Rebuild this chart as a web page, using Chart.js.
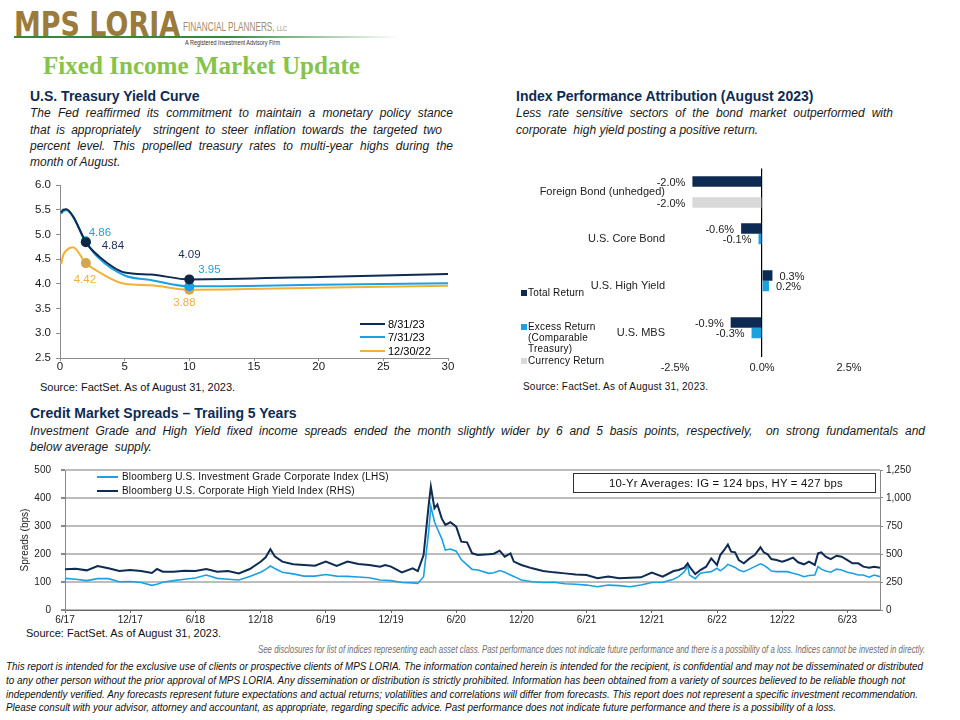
<!DOCTYPE html>
<html><head><meta charset="utf-8">
<script src="https://cdn.jsdelivr.net/npm/chart.js@4.4.0/dist/chart.umd.min.js"></script>
<style>
body{margin:0;background:#fff;}
#page{position:relative;width:960px;height:720px;overflow:hidden;font-family:"Liberation Sans",Arial,sans-serif;color:#000;background:#fff;}
.abs{position:absolute;white-space:nowrap;}
.h{font-weight:bold;font-size:14px;line-height:16px;color:#0F2B52;}
.p{font-style:italic;font-size:12px;line-height:16px;color:#1a1a1a;}
.j{text-align:justify;text-align-last:justify;}
.src{font-size:11px;line-height:14px;color:#111;}
.disc{font-family:"Liberation Sans Narrow","Liberation Sans",Arial,sans-serif;font-style:italic;font-size:10.5px;line-height:13px;}
canvas{position:absolute;}
.lg{font-size:10px;line-height:12px;color:#111;letter-spacing:0.2px;}
.sq{position:absolute;width:6px;height:6px;}
.ln{position:absolute;height:2px;}
</style></head>
<body><div id="page">

<!-- Logo -->
<div class="abs" data-w="166" style="left:14px;top:6px;font-family:'DejaVu Sans',sans-serif;font-weight:bold;font-size:34px;line-height:36px;color:#9A7B3C;transform-origin:left center;">MPS LORIA</div>
<div class="abs" data-w="104" style="left:183px;top:20px;font-family:'Liberation Sans Narrow',Arial,sans-serif;font-size:12px;line-height:14px;color:#9F8D6C;">FINANCIAL PLANNERS, <span style="font-size:8px">LLC</span></div>
<div class="abs" data-w="95" style="left:185px;top:39px;font-size:7px;line-height:8px;color:#333;">A Registered Investment Advisory Firm</div>
<div class="abs" style="left:14px;top:36px;width:385px;height:2px;background:linear-gradient(to right,#2F8A3C 0%,#2F8A3C 55%,rgba(47,138,60,0) 100%);"></div>
<div class="abs" data-w="317" style="left:43px;top:51px;font-family:'Liberation Serif',serif;font-weight:bold;font-size:26px;line-height:30px;color:#86C34A;">Fixed Income Market Update</div>

<!-- Yield curve texts -->
<div class="abs h" style="left:30px;top:88px;">U.S. Treasury Yield Curve</div>
<div class="abs p j" style="left:30px;top:105px;width:423px;">The Fed reaffirmed its commitment to maintain a monetary policy stance</div>
<div class="abs p j" style="left:30px;top:122px;width:412px;">that is appropriately&nbsp; stringent to steer inflation towards the targeted two</div>
<div class="abs p j" style="left:30px;top:138px;width:423px;">percent level. This propelled treasury rates to multi-year highs during the</div>
<div class="abs p" style="left:30px;top:154px;">month of August.</div>
<div class="abs src" style="left:40px;top:380px;">Source: FactSet. As of August 31, 2023.</div>

<!-- Bar chart texts -->
<div class="abs h" style="left:516px;top:88px;">Index Performance Attribution (August 2023)</div>
<div class="abs p j" style="left:516px;top:105px;width:377px;">Less rate sensitive sectors of the bond market outperformed with</div>
<div class="abs p" style="left:516px;top:122px;">corporate&nbsp; high yield posting a positive return.</div>
<div class="abs src" style="left:523px;top:380px;font-size:10px;letter-spacing:0.2px;">Source: FactSet. As of August 31, 2023.</div>

<!-- Spreads texts -->
<div class="abs h" style="left:30px;top:405px;">Credit Market Spreads – Trailing 5 Years</div>
<div class="abs p j" style="left:30px;top:423px;width:895px;">Investment Grade and High Yield fixed income spreads ended the month slightly wider by 6 and 5 basis points, respectively,&nbsp; on strong fundamentals and</div>
<div class="abs p" style="left:30px;top:439px;">below average&nbsp; supply.</div>
<div class="abs src" style="left:26px;top:626px;">Source: FactSet. As of August 31, 2023.</div>

<!-- Disclosures -->
<div class="abs disc" data-w="667" style="left:258px;top:643px;color:#707070;font-size:11.5px;">See disclosures for list of indices representing each asset class. Past performance does not indicate future performance and there is a possibility of a loss. Indices cannot be invested in directly.</div>
<div class="abs disc" data-w="917" style="left:6px;top:660px;color:#111;">This report is intended for the exclusive use of clients or prospective clients of MPS LORIA. The information contained herein is intended for the recipient, is confidential and may not be disseminated or distributed</div>
<div class="abs disc" data-w="899" style="left:6px;top:674px;color:#111;">to any other person without the prior approval of MPS LORIA. Any dissemination or distribution is strictly prohibited. Information has been obtained from a variety of sources believed to be reliable though not</div>
<div class="abs disc" data-w="912" style="left:6px;top:688px;color:#111;">independently verified. Any forecasts represent future expectations and actual returns; volatilities and correlations will differ from forecasts. This report does not represent a specific investment recommendation.</div>
<div class="abs disc" data-w="830" style="left:6px;top:701px;color:#111;">Please consult with your advisor, attorney and accountant, as appropriate, regarding specific advice. Past performance does not indicate future performance and there is a possibility of a loss.</div>

<canvas id="yieldChart" width="440" height="205" style="left:20px;top:175px;"></canvas>
<canvas id="barChart" width="440" height="225" style="left:510px;top:160px;"></canvas>
<canvas id="spreadChart" width="930" height="172" style="left:10px;top:462px;"></canvas>

<!-- Yield legend -->
<div class="ln" style="left:360px;top:323px;width:25px;background:#0E2B53;"></div>
<div class="abs" style="left:388px;top:317px;font-size:11px;line-height:14px;">8/31/23</div>
<div class="ln" style="left:360px;top:336px;width:25px;background:#1BA1E2;"></div>
<div class="abs" style="left:388px;top:330px;font-size:11px;line-height:14px;">7/31/23</div>
<div class="ln" style="left:360px;top:350px;width:25px;background:#F2B134;"></div>
<div class="abs" style="left:388px;top:344px;font-size:11px;line-height:14px;">12/30/22</div>

<!-- Bar legend -->
<div class="sq" style="left:521px;top:290px;background:#0C2A52;"></div>
<div class="abs lg" style="left:528px;top:287px;">Total Return</div>
<div class="sq" style="left:521px;top:324px;background:#1AA1E0;"></div>
<div class="abs lg" style="left:528px;top:321px;">Excess Return</div>
<div class="abs lg" style="left:528px;top:332px;">(Comparable</div>
<div class="abs lg" style="left:528px;top:343px;">Treasury)</div>
<div class="sq" style="left:521px;top:358px;background:#D9D9D9;"></div>
<div class="abs lg" style="left:528px;top:355px;">Currency Return</div>

<!-- Spread legend -->
<div class="ln" style="left:97px;top:476px;width:21px;background:#1BA1E2;"></div>
<div class="abs lg" style="left:122px;top:471px;">Bloomberg U.S. Investment Grade Corporate Index (LHS)</div>
<div class="ln" style="left:97px;top:490px;width:21px;background:#0E2B53;"></div>
<div class="abs lg" style="left:122px;top:485px;">Bloomberg U.S. Corporate High Yield Index (RHS)</div>
<div class="abs" style="left:573px;top:473px;width:301px;height:18px;border:1.5px solid #333;background:#fff;"></div>
<div class="abs lg" data-w="234" style="left:609px;top:478px;">10-Yr Averages: IG = 124 bps, HY = 427 bps</div>

</div>
<script>
// ---------- Data: yield curve ----------
const maturities = [0.083, 0.25, 0.5, 1, 2, 3, 5, 7, 10, 20, 30];
const yields_2023_08_31 = [5.44, 5.50, 5.51, 5.37, 4.84, 4.56, 4.23, 4.19, 4.09, 4.14, 4.20];
const yields_2023_07_31 = [5.42, 5.47, 5.49, 5.36, 4.86, 4.52, 4.17, 4.08, 3.95, 3.98, 4.01];
const yields_2022_12_30 = [4.40, 4.58, 4.68, 4.74, 4.42, 4.24, 4.00, 3.97, 3.88, 3.92, 3.96];
const markedMaturities = [2, 10];
const yieldXTicks = [0, 5, 10, 15, 20, 25, 30];

// ---------- Data: performance attribution ----------
const sectors = ['Foreign Bond (unhedged)', 'U.S. Core Bond', 'U.S. High Yield', 'U.S. MBS'];
const totalReturn = [-2.0, -0.6, 0.3, -0.9];
const excessReturn = [null, -0.1, 0.2, -0.3];
const currencyReturn = [-2.0, null, null, null];

// ---------- Data: credit spreads ----------
const spreadDates = ['2017-06-01','2017-07-01','2017-08-01','2017-09-01','2017-10-01','2017-11-01','2017-12-01','2018-01-01','2018-02-01','2018-02-15','2018-03-01','2018-04-01','2018-05-01','2018-06-01','2018-07-01','2018-08-01','2018-09-01','2018-10-01','2018-11-01','2018-12-01','2018-12-15','2018-12-28','2019-01-10','2019-02-01','2019-03-01','2019-04-01','2019-05-01','2019-06-01','2019-07-01','2019-08-01','2019-09-01','2019-10-01','2019-11-01','2019-11-15','2019-12-01','2020-01-01','2020-02-01','2020-02-15','2020-03-01','2020-03-15','2020-03-21','2020-03-31','2020-04-09','2020-04-21','2020-05-01','2020-05-15','2020-06-01','2020-06-15','2020-07-01','2020-07-15','2020-08-01','2020-09-01','2020-09-15','2020-10-01','2020-10-15','2020-11-01','2020-11-10','2020-12-01','2021-01-01','2021-02-01','2021-03-01','2021-04-01','2021-05-01','2021-06-01','2021-07-01','2021-08-01','2021-09-01','2021-10-01','2021-11-01','2021-12-01','2022-01-01','2022-02-01','2022-02-15','2022-03-01','2022-03-10','2022-03-15','2022-04-01','2022-04-15','2022-05-01','2022-05-15','2022-06-01','2022-06-10','2022-06-21','2022-07-01','2022-07-10','2022-07-21','2022-08-01','2022-08-15','2022-09-01','2022-09-15','2022-10-01','2022-10-10','2022-10-21','2022-11-01','2022-11-15','2022-12-01','2022-12-15','2023-01-01','2023-01-15','2023-02-01','2023-02-15','2023-03-01','2023-03-10','2023-03-19','2023-04-01','2023-04-15','2023-05-01','2023-05-15','2023-06-01','2023-06-15','2023-07-01','2023-07-15','2023-08-01','2023-08-15','2023-08-31'];
const igSpread = [113,110,105,112,112,101,102,98,88,92,99,105,110,114,125,113,110,107,120,135,145,157,148,135,129,121,121,127,121,120,118,115,107,106,105,98,97,95,119,280,370,315,290,255,214,218,210,180,161,145,143,131,133,141,135,125,120,107,101,98,99,94,92,89,83,89,87,83,89,98,99,110,119,137,157,125,112,131,135,137,149,140,150,163,158,152,143,137,146,155,165,160,150,139,137,137,137,131,127,119,123,125,155,146,139,135,146,143,135,131,125,125,117,125,119];
const hySpread = [363,369,354,393,372,348,357,348,330,366,342,342,351,348,366,342,348,327,366,431,470,542,480,432,408,402,396,432,393,432,411,402,387,402,387,336,372,348,491,937,1101,908,943,818,759,783,744,610,604,506,491,497,503,530,476,506,432,402,372,348,336,327,318,312,283,298,283,289,292,335,298,348,357,378,417,387,321,357,387,461,402,491,536,585,521,515,446,417,461,491,560,515,497,455,446,432,446,467,426,408,432,402,506,515,476,455,485,476,446,417,417,387,378,387,378];
const spreadLeftTicks = [0, 100, 200, 300, 400, 500];
const spreadRightTicks = [0, 250, 500, 750, 1000, 1250];

// ---------- Style ----------
const NAVY = '#0E2B53', LBLUE = '#1BA1E2', GOLD = '#F2B134', GOLDPT = '#D2A64C', GRAY = '#D9D9D9';
const FONT = '"Liberation Sans", Arial, sans-serif';
const AXIS = '#8C8C8C';
// keep label overflow from enlarging the plot margins (layout padding controls them)
const noVPad = s => { s.paddingTop = 0; s.paddingBottom = 0; };
const noHPad = s => { s.paddingLeft = 0; s.paddingRight = 0; };

// ---------- Yield curve chart ----------
const yieldLabelPos = {
  0: {2: [27, 3], 10: [0, -25]},
  1: {2: [14, -9], 10: [20, -17]},
  2: {2: [-1, 17], 10: [-5, 13]}
};
const yieldLabelPlugin = {
  id: 'yieldLabels',
  afterDatasetsDraw(chart) {
    const ctx = chart.ctx;
    chart.data.datasets.forEach((ds, i) => {
      const meta = chart.getDatasetMeta(i);
      markedMaturities.forEach(m => {
        const idx = ds.data.findIndex(p => p.x === m);
        const el = meta.data[idx];
        const off = yieldLabelPos[i][m];
        ctx.save();
        ctx.font = '11.5px ' + FONT;
        ctx.fillStyle = ds.labelColor;
        ctx.textAlign = 'center';
        ctx.textBaseline = 'middle';
        ctx.fillText(ds.data[idx].y.toFixed(2), el.x + off[0], el.y + off[1]);
        ctx.restore();
      });
    });
  }
};
function curve(vals, color, ptColor, labelColor) {
  return {
    data: maturities.map((m, i) => ({x: m, y: vals[i]})),
    borderColor: color, borderWidth: 2, cubicInterpolationMode: 'monotone',
    pointRadius: c => markedMaturities.includes(maturities[c.dataIndex]) ? 5 : 0,
    pointBackgroundColor: ptColor, pointBorderColor: ptColor, pointBorderWidth: 0,
    labelColor: labelColor
  };
}
new Chart(document.getElementById('yieldChart'), {
  type: 'line',
  data: {datasets: [
    curve(yields_2023_08_31, NAVY, '#0F2746', '#1B2F55'),
    curve(yields_2023_07_31, LBLUE, '#1BA1E2', '#1BA1E2'),
    curve(yields_2022_12_30, GOLD, GOLDPT, '#EDB040')
  ]},
  options: {
    responsive: false, animation: false,
    layout: {padding: {left: 0, right: 12, top: 10, bottom: 0}},
    plugins: {legend: {display: false}, tooltip: {enabled: false}},
    scales: {
      x: {type: 'linear', min: 0, max: 30,
        afterBuildTicks: s => { s.ticks = yieldXTicks.map(v => ({value: v})); },
        afterFit: s => { s.height = 22; noHPad(s); },
        grid: {drawOnChartArea: false, drawTicks: true, tickLength: 3, color: AXIS},
        border: {display: true, color: AXIS},
        ticks: {font: {size: 11.5, family: FONT}, color: '#1a1a1a', padding: -1, maxRotation: 0}},
      y: {min: 2.5, max: 6.0,
        ticks: {stepSize: 0.5, callback: v => v.toFixed(1), font: {size: 11.5, family: FONT}, color: '#1a1a1a', padding: 5},
        afterFit: s => { s.width = 40; noVPad(s); },
        grid: {drawOnChartArea: false, drawTicks: true, tickLength: 4, color: AXIS},
        border: {display: true, color: AXIS}}
    }
  },
  plugins: [yieldLabelPlugin]
});

// ---------- Bar chart ----------
const barLabelPlugin = {
  id: 'barLabels',
  afterDatasetsDraw(chart) {
    const ctx = chart.ctx;
    chart.data.datasets.forEach((ds, i) => {
      const meta = chart.getDatasetMeta(i);
      meta.data.forEach((el, j) => {
        const v = ds.data[j];
        if (v === null || v === undefined) return;
        ctx.save();
        ctx.font = '11px ' + FONT;
        ctx.fillStyle = '#222';
        ctx.textBaseline = 'middle';
        if (v < 0) { ctx.textAlign = 'right'; ctx.fillText(v.toFixed(1) + '%', el.x - 7, el.y + 1); }
        else { ctx.textAlign = 'left'; ctx.fillText(v.toFixed(1) + '%', el.x + 7, el.y + 1); }
        ctx.restore();
      });
    });
  }
};
new Chart(document.getElementById('barChart'), {
  type: 'bar',
  data: {labels: sectors, datasets: [
    {label: 'Total Return', data: totalReturn, backgroundColor: '#0C2A52'},
    {label: 'Excess Return (Comparable Treasury)', data: excessReturn, backgroundColor: '#1AA1E0'},
    {label: 'Currency Return', data: currencyReturn, backgroundColor: GRAY}
  ]},
  options: {
    indexAxis: 'y', responsive: false, animation: false,
    datasets: {bar: {categoryPercentage: 0.67, barPercentage: 1.0}},
    layout: {padding: {left: 0, right: 101, top: 8.5, bottom: 0}},
    plugins: {legend: {display: false}, tooltip: {enabled: false}},
    scales: {
      x: {min: -2.5, max: 2.5,
        ticks: {stepSize: 2.5, callback: v => v.toFixed(1) + '%', font: {size: 11, family: FONT}, color: '#222', padding: 5},
        afterFit: s => { s.height = 28.5; noHPad(s); },
        grid: {drawTicks: false, lineWidth: 1.2, color: c => (c.tick && c.tick.value === 0) ? '#000' : 'rgba(0,0,0,0)'},
        border: {display: false}},
      y: {
        ticks: {font: {size: 11, family: FONT}, color: '#222', padding: 2},
        afterFit: s => { s.width = 165; noVPad(s); },
        grid: {display: false}, border: {display: false}}
    }
  },
  plugins: [barLabelPlugin]
});

// ---------- Spreads chart ----------
function monthsSince(d) {
  const [y, m, dd] = d.split('-').map(Number);
  return (y - 2017) * 12 + (m - 6) + (dd - 1) / 30;
}
const spreadX = spreadDates.map(monthsSince);
function monthLabel(v) {
  const t = 5 + Math.round(v);
  return (t % 12 + 1) + '/' + String(2017 + Math.floor(t / 12)).slice(2);
}
new Chart(document.getElementById('spreadChart'), {
  type: 'line',
  data: {datasets: [
    {label: 'HY', data: spreadX.map((x, i) => ({x, y: hySpread[i]})), yAxisID: 'yR', borderColor: NAVY, borderWidth: 2, pointRadius: 0, tension: 0},
    {label: 'IG', data: spreadX.map((x, i) => ({x, y: igSpread[i]})), yAxisID: 'yL', borderColor: LBLUE, borderWidth: 1.6, pointRadius: 0, tension: 0}
  ]},
  options: {
    responsive: false, animation: false,
    layout: {padding: {left: 5, right: 0, top: 8, bottom: 0}},
    plugins: {legend: {display: false}, tooltip: {enabled: false}},
    scales: {
      x: {type: 'linear', min: 0, max: 75,
        ticks: {stepSize: 6, includeBounds: false, callback: monthLabel, font: {size: 10, family: FONT}, color: '#222', padding: 1, maxRotation: 0},
        afterFit: s => { s.height = 24; noHPad(s); },
        grid: {drawOnChartArea: false, drawTicks: true, tickLength: 3, color: '#666'},
        border: {display: true, color: '#666'}},
      yL: {position: 'left', min: 0, max: 500,
        afterBuildTicks: s => { s.ticks = spreadLeftTicks.map(v => ({value: v})); },
        ticks: {font: {size: 10, family: FONT}, color: '#222', padding: 10},
        title: {display: true, text: 'Spreads (bps)', font: {size: 10, family: FONT}, color: '#222', padding: {top: 4, bottom: 0}},
        afterFit: s => { s.width = 50; noVPad(s); },
        grid: {color: '#BDBDBD', lineWidth: 2, drawTicks: true, tickLength: 4, tickColor: '#888'},
        border: {display: true, color: '#888'}},
      yR: {position: 'right', min: 0, max: 1250,
        afterBuildTicks: s => { s.ticks = spreadRightTicks.map(v => ({value: v})); },
        ticks: {callback: v => v.toLocaleString('en-US'), font: {size: 10, family: FONT}, color: '#222', padding: 3},
        afterFit: s => { s.width = 60; noVPad(s); },
        grid: {drawOnChartArea: false, drawTicks: true, tickLength: 3, color: '#888'},
        border: {display: true, color: '#888'}}
    }
  }
});

// ---------- Fit texts to measured widths ----------
document.querySelectorAll('[data-w]').forEach(el => {
  const w = el.getBoundingClientRect().width;
  el.style.transformOrigin = 'left center';
  el.style.transform = 'scaleX(' + (Number(el.dataset.w) / w) + ')';
});
</script>
</body></html>
